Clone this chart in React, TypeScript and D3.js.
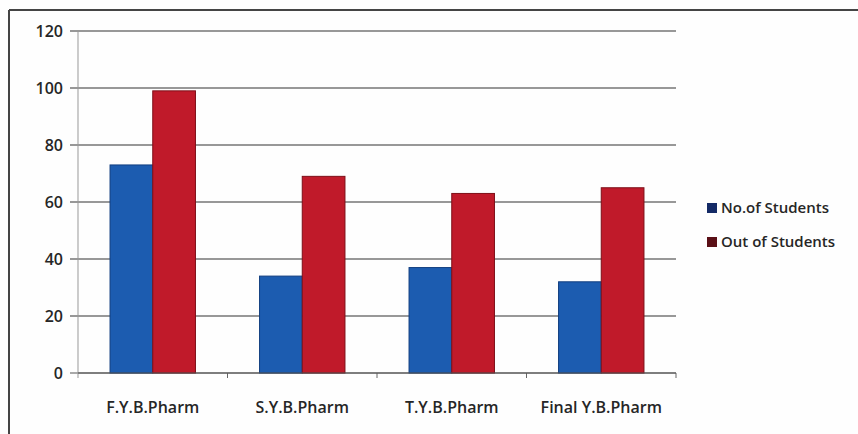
import React from "react";
import * as d3 from "d3";

const categories = ["F.Y.B.Pharm", "S.Y.B.Pharm", "T.Y.B.Pharm", "Final Y.B.Pharm"];
const seriesNames = ["No.of Students", "Out of Students"];
const noOfStudents = [73, 34, 37, 32];
const outOfStudents = [99, 69, 63, 65];
const yTicks = [0, 20, 40, 60, 80, 100, 120];

const W = 858;
const H = 434;
const left = 78;
const right = 676;
const top = 31;
const bottom = 373;

const fills = ["#1c5cb0", "#c01a2a"];
const strokes = ["#123f80", "#7e0f18"];
const legendFills = ["#142a66", "#5a0f16"];

export default function App() {
  const x = d3.scaleBand<string>().domain(categories).range([left, right]).padding(0);
  const y = d3.scaleLinear().domain([0, 120]).range([bottom, top]);
  const inner = d3
    .scaleBand<string>()
    .domain(seriesNames)
    .range([0, x.bandwidth()])
    .paddingInner(0)
    .paddingOuter(0.75);
  const series = [noOfStudents, outOfStudents];
  const font = "'Open Sans', sans-serif";

  return (
    <svg width={W} height={H} style={{ position: "absolute", left: 0, top: 0, background: "#fff" }}>
      <rect x={0} y={0} width={W} height={H} fill="#fefefe" />
      {/* frame */}
      <line x1={9} y1={10} x2={W} y2={10} stroke="#444" strokeWidth={2} />
      <line x1={9} y1={10} x2={9} y2={H} stroke="#444" strokeWidth={2} />
      {/* gridlines */}
      {yTicks.map((t) => (
        <g key={t}>
          <line x1={70} x2={right} y1={y(t)} y2={y(t)} stroke={t === 0 ? "#555" : "#333"} strokeWidth={1.2} />
          <text
            x={63}
            y={y(t)}
            dy="0.35em"
            textAnchor="end"
            fontFamily={font}
            fontSize={16}
            fontWeight={600}
            fill="#262626"
          >
            {t}
          </text>
        </g>
      ))}
      {/* y axis */}
      <line x1={left} x2={left} y1={top} y2={bottom + 5} stroke="#999" strokeWidth={1} />
      {/* bars */}
      {categories.map((c, i) => (
        <g key={c}>
          {seriesNames.map((s, j) => {
            const v = series[j][i];
            return (
              <rect
                key={s}
                x={(x(c) as number) + (inner(s) as number)}
                y={y(v)}
                width={inner.bandwidth()}
                height={y(0) - y(v)}
                fill={fills[j]}
                stroke={strokes[j]}
                strokeWidth={1}
              />
            );
          })}
        </g>
      ))}
      {/* x axis ticks */}
      {categories.map((c) => (
        <line
          key={"t" + c}
          x1={(x(c) as number) + x.bandwidth()}
          x2={(x(c) as number) + x.bandwidth()}
          y1={bottom}
          y2={bottom + 5}
          stroke="#666"
        />
      ))}
      <line x1={left} x2={right} y1={bottom} y2={bottom} stroke="#555" strokeWidth={1.2} />
      {/* x labels */}
      {categories.map((c) => (
        <text
          key={"l" + c}
          x={(x(c) as number) + x.bandwidth() / 2}
          y={413}
          textAnchor="middle"
          fontFamily={font}
          fontSize={16}
          fontWeight={600}
          fill="#262626"
        >
          {c}
        </text>
      ))}
      {/* legend */}
      {seriesNames.map((s, j) => (
        <g key={"lg" + s} transform={`translate(707, ${208 + j * 34})`}>
          <rect x={0} y={-5} width={10} height={10} fill={legendFills[j]} />
          <text x={14} y={0} dy="0.35em" fontFamily={font} fontSize={15} fontWeight={600} fill="#262626">
            {s}
          </text>
        </g>
      ))}
    </svg>
  );
}
